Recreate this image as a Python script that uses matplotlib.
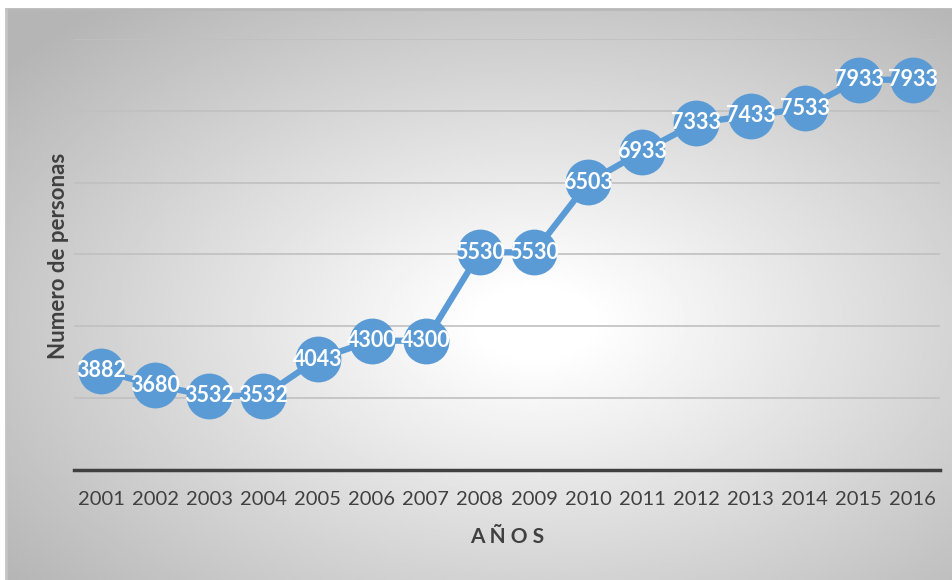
import numpy as np
import matplotlib
matplotlib.use("Agg")
import matplotlib.pyplot as plt

years = ["2001", "2002", "2003", "2004", "2005", "2006", "2007", "2008",
         "2009", "2010", "2011", "2012", "2013", "2014", "2015", "2016"]
personas = [3882, 3680, 3532, 3532, 4043, 4300, 4300, 5530,
            5530, 6503, 6933, 7333, 7433, 7533, 7933, 7933]

W, H = 952, 580
fig = plt.figure(figsize=(W / 100, H / 100), dpi=100)
fig.patch.set_facecolor("white")

# fondo con degradado radial (blanco al centro, gris en los bordes)
bg = fig.add_axes([6 / W, 0, 1 - 6 / W, 1 - 9 / H])
bg.set_axis_off()
gx, gy = np.meshgrid(np.linspace(0, 1, 400), np.linspace(0, 1, 250))
r = np.sqrt((gx - 0.56) ** 2 + (gy - 0.55) ** 2)
val = 1 - 0.29 * np.clip((r - 0.06) / 0.66, 0, 1)
bg.imshow(val, cmap="gray", vmin=0, vmax=1, aspect="auto",
          extent=[0, 1, 0, 1], origin="upper")
bg.plot([0, 1], [1, 1], color="#b8b8b8", lw=2, transform=bg.transAxes, clip_on=False)
bg.plot([0, 0], [0, 1], color="#c4c4c4", lw=2, transform=bg.transAxes, clip_on=False)

ax = fig.add_axes([74 / W, 1 - 470 / H, 866 / W, 431 / H])
ax.patch.set_alpha(0)
x = np.arange(len(years))

ax.plot(x, personas, color="#5b9bd5", lw=4.5, marker="o", markersize=33,
        markeredgewidth=0, zorder=3, solid_capstyle="round")
for xi, v in zip(x, personas):
    ax.text(xi, v, str(v), ha="center", va="center", color="white",
            fontsize=15.5, fontweight="bold", family="Lato", zorder=4)

ax.set_xlim(-0.5, len(years) - 0.5)
ax.set_ylim(2500, 8500)
ax.set_yticks(np.arange(2500, 8501, 1000))
ax.set_yticklabels([])
ax.grid(axis="y", color="#c0c0c0", lw=1.2)
ax.set_axisbelow(True)
ax.set_xticks(x)
ax.set_xticklabels(years, fontsize=14.5, family="Lato", color="#404040")
ax.tick_params(length=0, pad=15)
for s in ["top", "right", "left"]:
    ax.spines[s].set_visible(False)
ax.spines["bottom"].set_color("#404040")
ax.spines["bottom"].set_linewidth(2.5)

ax.set_xlabel("A Ñ O S", fontsize=15, fontweight="bold", family="Lato",
              color="#404040", labelpad=14)
ax.set_ylabel("Numero de personas", fontsize=16, fontweight="bold",
              family="Lato", color="#404040", labelpad=0)
ax.yaxis.set_label_coords(-5 / 866, (470 - 256) / 431)

fig.savefig("out.png", dpi=100)
